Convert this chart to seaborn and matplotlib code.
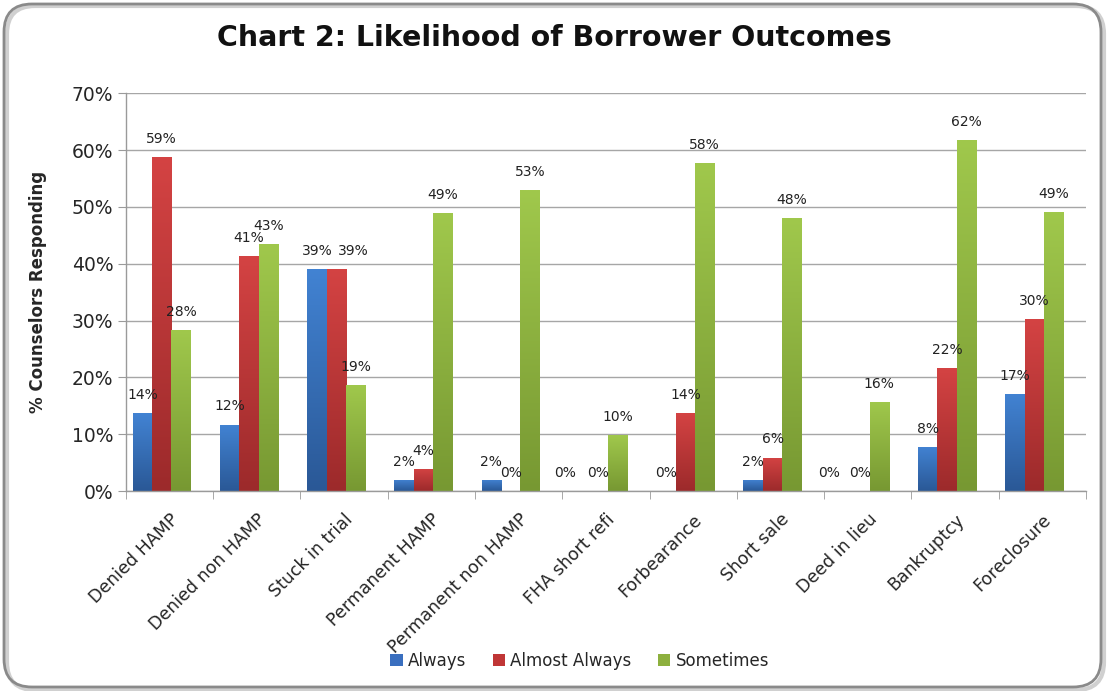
import numpy as np
import pandas as pd
import matplotlib
matplotlib.use("Agg")
import matplotlib.pyplot as plt
import seaborn as sns
from matplotlib.patches import Patch, FancyBboxPatch
from matplotlib.colors import LinearSegmentedColormap

# data (% of counselors responding)
categories = ["Denied HAMP", "Denied non HAMP", "Stuck in trial", "Permanent HAMP",
              "Permanent non HAMP", "FHA short refi", "Forbearance", "Short sale",
              "Deed in lieu", "Bankruptcy", "Foreclosure"]
series = ["Always", "Almost Always", "Sometimes"]
always = [13.7, 11.7, 39.1, 2.0, 2.0, 0.0, 0.0, 2.0, 0.0, 7.8, 17.1]
almost_always = [58.8, 41.3, 39.1, 3.9, 0.0, 0.0, 13.7, 5.9, 0.0, 21.6, 30.2]
sometimes = [28.3, 43.4, 18.6, 49.0, 52.9, 9.8, 57.8, 48.0, 15.7, 61.8, 49.1]

# top / bottom colours of the bar gradients
tops = ["#4283d3", "#d44343", "#a0c84c"]
bottoms = ["#2a5896", "#9c2a2b", "#779832"]
mids = ["#3a6fbf", "#c03636", "#8db03e"]

# labels nudged sideways in the original (series, category) -> points
nudge = {(0, 5): -10, (0, 8): -8, (1, 2): 12}

df = pd.DataFrame({
    "Category": categories * 3,
    "Series": [s for s in series for _ in categories],
    "Value": always + almost_always + sometimes,
})

sns.set_style("white")
plt.rcParams["font.family"] = ["DejaVu Sans"]

fig = plt.figure(figsize=(11.08, 6.91), dpi=100)
ax = fig.add_axes([0.1137, 0.2894, 0.8663, 0.5756])

sns.barplot(data=df, x="Category", y="Value", hue="Series", palette=mids,
            width=0.667, gap=0, ax=ax, legend=False, saturation=1)

ax.set_ylim(0, 70)
ax.set_xlim(-0.5, len(categories) - 0.5)
ax.set_autoscale_on(False)

# gradient fill + value labels
shift = -0.09
for i, cont in enumerate(ax.containers):
    cmap = LinearSegmentedColormap.from_list("g", [bottoms[i], tops[i]])
    grad = np.linspace(0, 1, 256).reshape(-1, 1)
    for j, bar in enumerate(cont):
        bar.set_x(bar.get_x() + shift)
        x0, w, h = bar.get_x(), bar.get_width(), bar.get_height()
        bar.set_facecolor("none")
        bar.set_edgecolor("none")
        if h > 0:
            im = ax.imshow(grad, cmap=cmap, origin="lower", aspect="auto",
                           extent=[x0, x0 + w, 0, h], zorder=2)
            im.set_clip_path(bar)
        ax.annotate(f"{h:.0f}%", (x0 + w / 2, h), xytext=(nudge.get((i, j), 0), 13),
                    textcoords="offset points", ha="center", va="center",
                    fontsize=10, color="#222222", zorder=5)

ax.set_xlim(-0.5, len(categories) - 0.5)
ax.set_ylim(0, 70)

# grid and axes
ax.set_yticks(np.arange(0, 71, 10))
ax.set_yticklabels([f"{v}%" for v in range(0, 71, 10)], fontsize=13.5)
ax.yaxis.grid(True, color="#a6a6a6", linewidth=1)
ax.set_axisbelow(True)
for s in ["top", "right"]:
    ax.spines[s].set_visible(False)
for s in ["left", "bottom"]:
    ax.spines[s].set_color("#9a9a9a")
    ax.spines[s].set_linewidth(1)
ax.tick_params(axis="y", length=6, color="#9a9a9a", pad=3, left=True)
ax.set_xticks(range(len(categories)))
ax.set_xticklabels(categories, rotation=45, ha="right", rotation_mode="anchor",
                   fontsize=12.5)
ax.tick_params(axis="x", length=0, pad=14)
ax.set_xticks(np.arange(-0.5, len(categories)), minor=True)
ax.tick_params(axis="x", which="minor", length=6, color="#9a9a9a", bottom=True)
ax.set_xlabel("")
ax.set_ylabel("% Counselors Responding", fontsize=12, fontweight="bold", labelpad=18)

fig.suptitle("Chart 2: Likelihood of Borrower Outcomes", fontsize=20.5,
             fontweight="bold", x=0.5, y=0.945, va="center", color="#111111")

handles = [Patch(facecolor=mids[i], edgecolor="none", label=series[i]) for i in range(3)]
fig.legend(handles=handles, loc="center", bbox_to_anchor=(0.523, 0.0434), ncol=3,
           frameon=False, fontsize=12, handlelength=0.75, handleheight=0.75,
           handletextpad=0.3, columnspacing=1.6)

# rounded chart border
shadow = FancyBboxPatch((7, 1), 1097, 684, boxstyle="round,pad=0,rounding_size=28",
                        transform=None, facecolor="none", edgecolor="#d0d0d0",
                        linewidth=3, zorder=0)
border = FancyBboxPatch((4, 4), 1097, 683, boxstyle="round,pad=0,rounding_size=28",
                        transform=None, facecolor="none", edgecolor="#8a8a8a",
                        linewidth=2, zorder=1)
fig.patches.extend([shadow, border])

fig.savefig("out.png", dpi=100)
